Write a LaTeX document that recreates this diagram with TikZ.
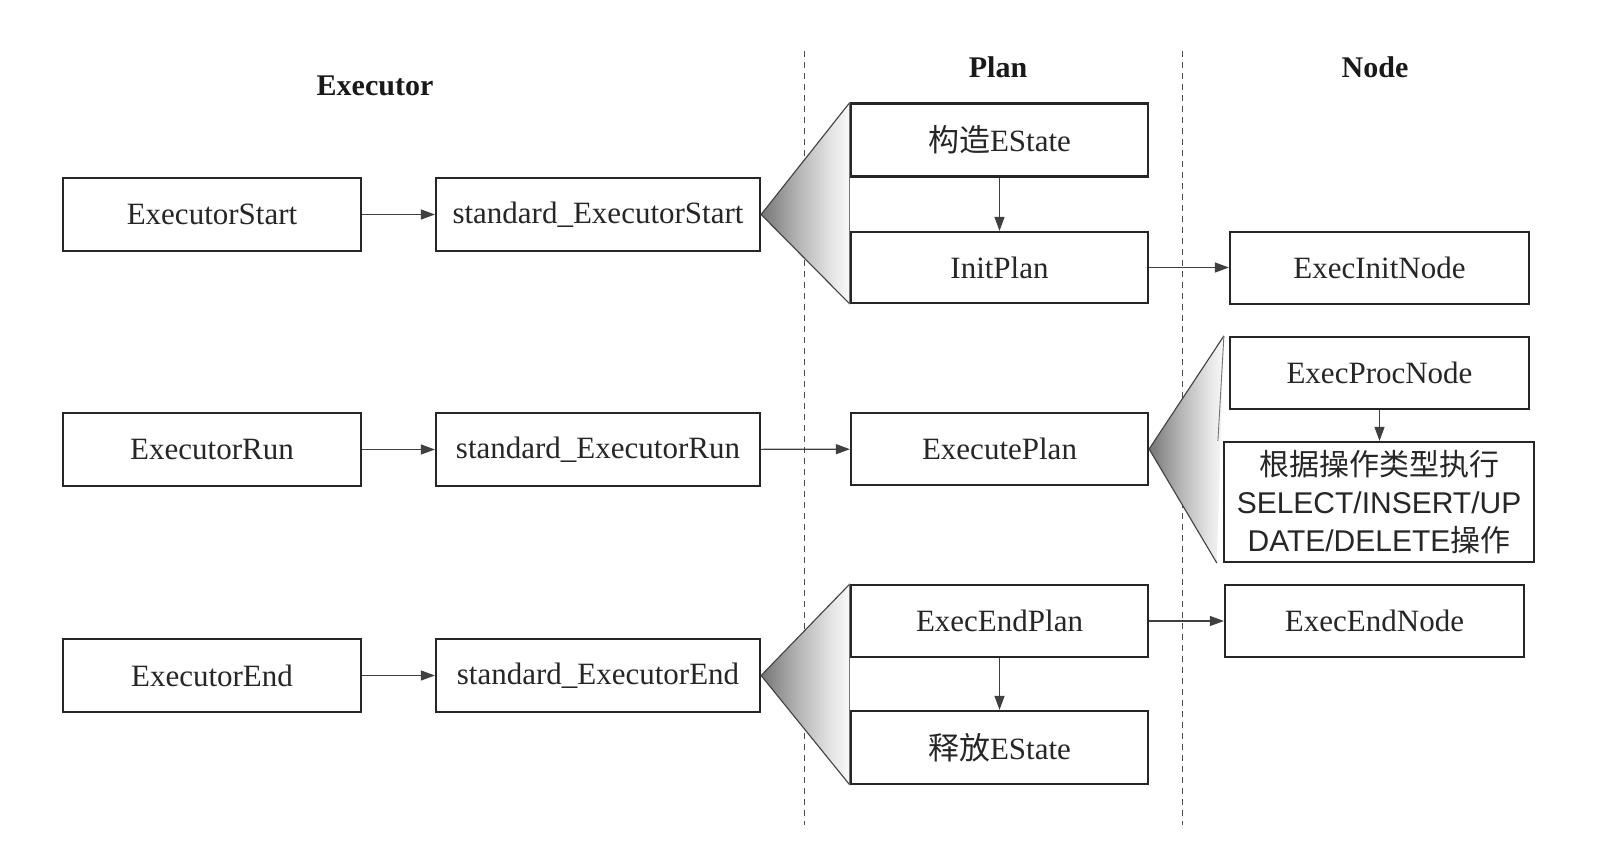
\documentclass[tikz,border=0pt]{standalone}
\usepackage{fontspec}
\setmainfont{Liberation Serif}
\newfontfamily\cjk{Noto Sans CJK SC}
\newfontfamily\arialf{Liberation Sans}
\usetikzlibrary{arrows.meta}
\pgfdeclarehorizontalshading{fanshade}{100bp}{color(0bp)=(black!92); color(20bp)=(black!60); color(45bp)=(black!30); color(65bp)=(black!10); color(78bp)=(white); color(100bp)=(white)}
\begin{document}
\begin{tikzpicture}[x=1pt,y=-1pt,
  box/.style={draw=black!85, line width=2.2pt, inner sep=0pt, align=center,
    font=\fontsize{31}{38}\selectfont, text=black!85},
  hdr/.style={font=\fontsize{30}{36}\selectfont\bfseries, text=black!90},
  conn/.style={draw=black!75, line width=1.1pt, -{Triangle[length=14pt,width=10pt]}},
  fanline/.style={draw=black!75, line width=1.1pt},
  sep/.style={draw=black!70, line width=1pt, dash pattern=on 6pt off 5pt}]
\useasboundingbox (0,0) rectangle (1600,856);
\fill[white] (0,0) rectangle (1600,856);

% separators
\coordinate (s1t) at (804,51); \coordinate (s1b) at (804,825);
\coordinate (s2t) at (1182,51); \coordinate (s2b) at (1182,825);
\draw[sep] (s1t) -- (s1b);
\draw[sep] (s2t) -- (s2b);

% headers
\node[hdr] (hExec) at (375,86) {Executor};
\node[hdr] (hPlan) at (998,67) {Plan};
\node[hdr] (hNode) at (1375,67) {Node};

% column 1
\node[box, minimum width=298pt, minimum height=73pt] (es) at (212,214.5) {ExecutorStart};
\node[box, minimum width=298pt, minimum height=73pt] (er) at (212,449.5) {ExecutorRun};
\node[box, minimum width=298pt, minimum height=73pt] (ee) at (212,675.5) {ExecutorEnd};
% column 2
\node[box, minimum width=324pt, minimum height=73pt] (ses) at (598,214.5) {standard\_ExecutorStart};
\node[box, minimum width=324pt, minimum height=73pt] (ser) at (598,449.5) {standard\_ExecutorRun};
\node[box, minimum width=324pt, minimum height=73pt] (see) at (598,675.5) {standard\_ExecutorEnd};
% column 3
\node[box, minimum width=297pt, minimum height=73pt] (ce) at (999.5,140) {{\cjk 构造}EState};
\node[box, minimum width=297pt, minimum height=71pt] (ip) at (999.5,267.5) {InitPlan};
\node[box, minimum width=297pt, minimum height=72pt] (ep) at (999.5,449) {ExecutePlan};
\node[box, minimum width=297pt, minimum height=72pt] (eep) at (999.5,621) {ExecEndPlan};
\node[box, minimum width=297pt, minimum height=73pt] (fe) at (999.5,747.5) {{\cjk 释放}EState};
% column 4
\node[box, minimum width=299pt, minimum height=72pt] (ein) at (1379.5,268) {ExecInitNode};
\node[box, minimum width=299pt, minimum height=72pt] (epn) at (1379.5,373) {ExecProcNode};
\node[box, minimum width=310pt, minimum height=120pt, font=\arialf\fontsize{30}{38}\selectfont] (op) at (1379,502) {{\cjk 根据操作类型执行}\\SELECT/INSERT/UP\\DATE/DELETE{\cjk 操作}};
\node[box, minimum width=299pt, minimum height=72pt] (een) at (1374.5,621) {ExecEndNode};

% fans
\coordinate (f1a) at (ce.north west); \coordinate (f1b) at (ip.south west);
\shade[shading=fanshade] (ses.east) -- (f1a) -- (f1b) -- cycle;
\draw[fanline] (f1a) -- (ses.east) -- (f1b);
\draw[draw=black!55, line width=0.9pt] (f1a) -- (f1b);

\coordinate (f2a) at ([xshift=-5pt]epn.north west); \coordinate (f2b) at ([xshift=-6pt]op.south west);
\shade[shading=fanshade] (ep.east) -- (f2a) -- (f2b) -- cycle;
\draw[fanline] (f2a) -- (ep.east) -- (f2b);
\draw[draw=black!55, line width=0.9pt] (f2a) -- ([xshift=-5pt]op.north west);

\coordinate (f3a) at (eep.north west); \coordinate (f3b) at (fe.south west);
\shade[shading=fanshade] (see.east) -- (f3a) -- (f3b) -- cycle;
\draw[fanline] (f3a) -- (see.east) -- (f3b);
\draw[draw=black!55, line width=0.9pt] (f3a) -- (f3b);

% connectors
\draw[conn] (es) -- (ses);
\draw[conn] (er) -- (ser);
\draw[conn] (ee) -- (see);
\draw[conn] (ser) -- (ep);
\draw[conn] (ce) -- (ip);
\draw[conn] (ip) -- (ip -| ein.west);
\draw[conn] (eep) -- (eep -| een.west);
\draw[conn] (eep) -- (fe);
\draw[conn] (epn) -- (epn |- op.north);
\end{tikzpicture}
\end{document}
